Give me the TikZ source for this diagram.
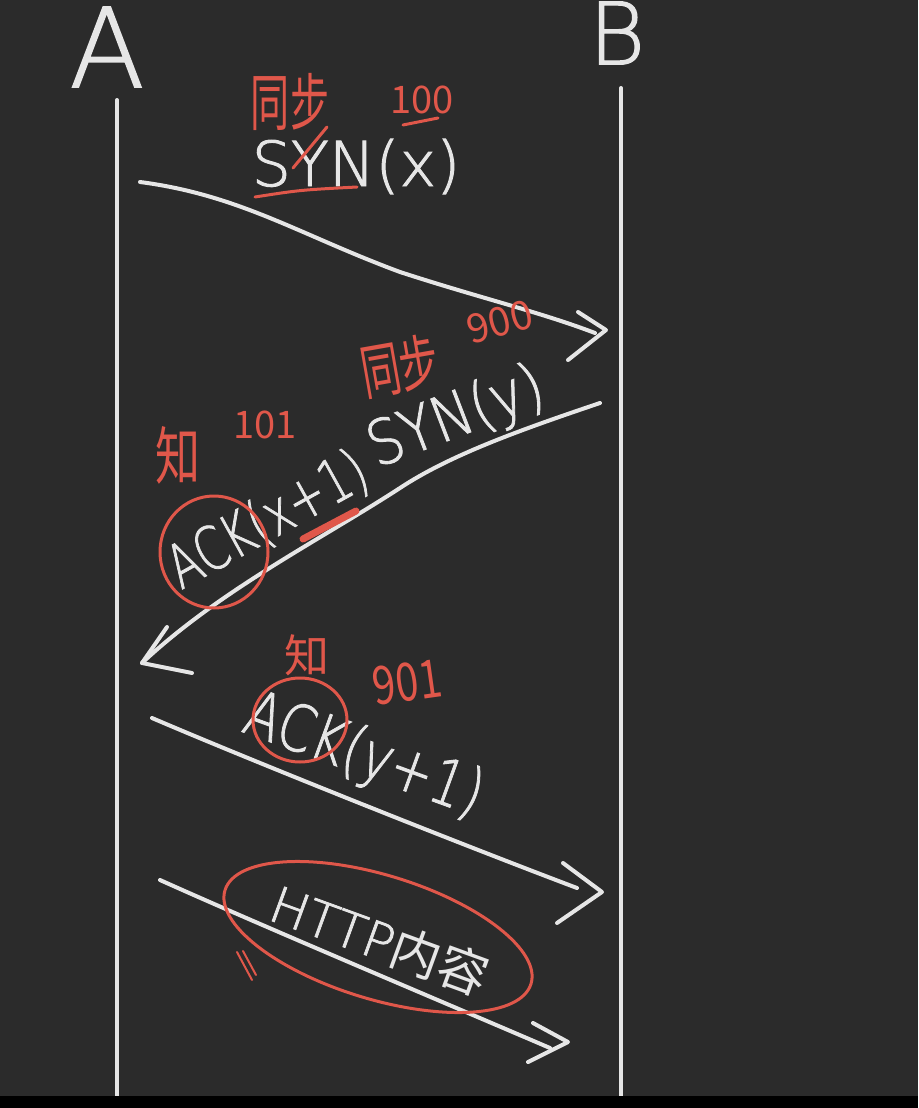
\documentclass[tikz,border=0pt]{standalone}
\usepackage{fontspec}
\newfontfamily\hw{DejaVu Sans}[UprightFont={* ExtraLight},FakeBold=1.5]
\newfontfamily\cjk{Noto Sans CJK SC}
\definecolor{bg}{HTML}{2B2B2B}
\definecolor{chalk}{HTML}{E6E6E6}
\definecolor{ink}{HTML}{E0574A}
\begin{document}
\begin{tikzpicture}[x=1pt,y=-1pt,
  wline/.style={draw=chalk,line width=4pt,line cap=round,line join=round},
  rline/.style={draw=ink,line width=3pt,line cap=round,line join=round},
  wtext/.style={text=chalk,inner sep=0pt},
  rtext/.style={text=ink,inner sep=0pt}]
% background
\fill[bg] (0,0) rectangle (918,1108);
\useasboundingbox (0,0) rectangle (918,1108);
% lifelines
\coordinate (Atop) at (117,100);
\coordinate (Abot) at (117,1100);
\coordinate (Btop) at (621,88);
\coordinate (Bbot) at (621,1100);
\draw[wline] (Atop) -- (Abot);
\draw[wline] (Btop) -- (Bbot);
\node[wtext,font={\hw\fontsize{110}{120}\selectfont}] (A) at (107,47) {A};
\node[wtext,font={\hw\fontsize{86}{96}\selectfont}] (B) at (617,33) {B};
% message 1
\coordinate (m1s) at (140,182);
\coordinate (m1e) at (595,333);
\coordinate (h1) at (606,330);
\draw[wline] (m1s) .. controls (240,195) and (300,235) .. (400,272) .. controls (480,298) and (540,312) .. (m1e);
\draw[wline] (h1) ++(-28,-18) -- (h1) -- ++(-38,30);
\node[wtext,anchor=base,font={\hw\fontsize{62}{70}\selectfont}] (syn) at (356,186) {SYN(x)};
\node[rtext,font={\cjk\fontsize{46}{54}\selectfont}] (t1) at (290,102) {\scalebox{0.85}[1.35]{同步}};
\node[rtext,font={\cjk\fontsize{38}{44}\selectfont}] (n1) at (422,100) {100};
\draw[rline] (403,125) -- (438,118);
\draw[rline] (255,197) .. controls (300,190) .. (357,187);
\draw[rline] (327,127) -- (293,168);
% message 2
\coordinate (m2s) at (600,403);
\coordinate (m2e) at (142,663);
\draw[wline] (m2s) .. controls (520,430) and (450,455) .. (400,488) .. controls (320,540) and (220,590) .. (m2e);
\draw[wline] (m2e) ++(25,-36) -- (m2e) -- ++(50,10);
\node[wtext,anchor=base west,rotate=29,font={\hw\fontsize{60}{66}\selectfont}] (ack1) at (181,590) {\scalebox{0.75}[1]{ACK(x+1)}};
\node[wtext,anchor=base west,rotate=21,font={\hw\fontsize{62}{68}\selectfont}] (syn2) at (377,468) {\scalebox{0.88}[1]{SYN(y)}};
\node[rtext,font={\cjk\fontsize{45}{50}\selectfont}] (z1) at (178,455) {\scalebox{1}[1.4]{知}};
\node[rtext,font={\cjk\fontsize{38}{44}\selectfont}] (n2) at (265,425) {101};
\node[rtext,rotate=10,font={\cjk\fontsize{48}{54}\selectfont}] (t2) at (400,366) {\scalebox{0.82}[1.25]{同步}};
\node[rtext,rotate=15,font={\cjk\fontsize{40}{46}\selectfont}] (n3) at (500,322) {900};
\draw[rline] (214,552) ellipse [x radius=54pt, y radius=56pt];
\draw[ink,line width=7pt,line cap=round] (303,539) -- (356,511);
% message 3
\coordinate (m3s) at (152,718);
\coordinate (m3e) at (577,888);
\coordinate (h3) at (602,892);
\draw[wline] (m3s) .. controls (250,760) and (450,840) .. (m3e);
\draw[wline] (h3) ++(-39,-29) -- (h3) -- ++(-45,31);
\node[wtext,anchor=base west,rotate=-20,font={\hw\fontsize{64}{70}\selectfont}] (ack2) at (240,731) {\scalebox{0.8}[1]{ACK(y+1)}};
\node[rtext,font={\cjk\fontsize{45}{50}\selectfont}] (z2) at (307,655) {知};
\node[rtext,rotate=8,font={\cjk\fontsize{46}{52}\selectfont}] (n4) at (407,682) {\scalebox{0.9}[1.15]{901}};
\draw[rline] (300,720) ellipse [x radius=47pt, y radius=42pt];
% message 4
\coordinate (m4s) at (160,880);
\coordinate (m4e) at (550,1048);
\coordinate (h4) at (568,1042);
\draw[wline] (m4s) .. controls (260,925) and (450,1005) .. (m4e);
\draw[wline] (h4) ++(-35,-19) -- (h4) -- ++(-40,20);
\node[wtext,rotate=-20,font={\fontsize{50}{56}\selectfont}] (http) at (380,940) {{\hw HTTP}{\cjk 内容}};
\draw[rline,rotate around={-17:(378,937)}] (378,937) ellipse [x radius=160pt, y radius=62pt];
\draw[ink,line width=2pt,line cap=round] (237,952) -- (252,980);
\draw[ink,line width=2pt,line cap=round] (243,951) -- (256,975);
% bottom strip
\fill[black] (0,1096) rectangle (918,1108);
\end{tikzpicture}
\end{document}
